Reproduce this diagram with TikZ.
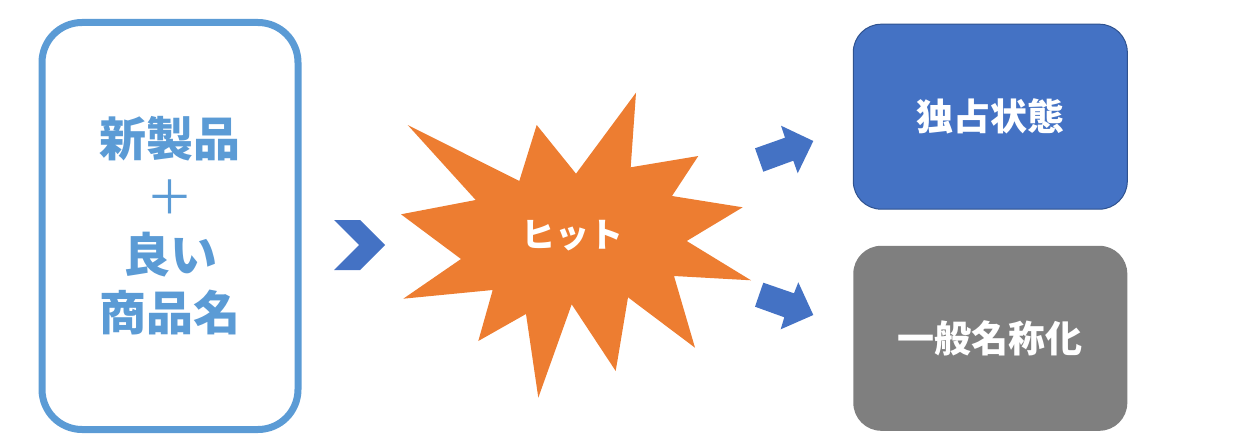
\documentclass[tikz,border=0pt]{standalone}
\usepackage{fontspec}
\setmainfont{Noto Sans CJK JP}
\usetikzlibrary{calc}

\definecolor{ideablue}{HTML}{5B9BD5}
\definecolor{accentblue}{HTML}{4472C4}
\definecolor{edgeblue}{HTML}{2F528F}
\definecolor{hitorange}{HTML}{ED7D31}
\definecolor{genericgray}{HTML}{7F7F7F}

\begin{document}
\begin{tikzpicture}[x=1pt, y=-1pt,
	idea/.style = {draw=ideablue, line width=7pt,
		rounded corners=40pt,
		minimum width=256pt, minimum height=407pt,
		text=ideablue, align=center,
		font=\fontsize{47}{58}\selectfont\bfseries},
	result/.style = {rounded corners=28pt,
		minimum width=274pt, minimum height=185pt,
		text=white,
		font=\fontsize{37}{42}\selectfont\bfseries}]
	
	\useasboundingbox (0,0) rectangle (1235,444);
	
	% Idea box
	\node[idea] (idea) at (170,226) {新製品\\{\mdseries ＋}\\良い\\商品名};
	
	% Chevron
	\fill[accentblue] (334,220) -- (360,220) -- (385,245) -- (360,270)
		-- (334,270) -- (359,245) -- cycle;
	
	% Burst
	\fill[hitorange] (407.7,125) -- (519.3,181) -- (536.7,125) -- (576,173.7)
		-- (636,92.7) -- (630.7,167.3) -- (698.3,156) -- (672,196)
		-- (742.7,207.3) -- (686.7,241) -- (751,280.3) -- (674,276)
		-- (695,347.7) -- (628,297.3) -- (615.7,371) -- (571.7,304.3)
		-- (538.3,397.7) -- (526,314) -- (478.3,341) -- (492.7,290)
		-- (403.3,298.7) -- (461,259) -- (401,214.3) -- (475.7,200) -- cycle;
	\node[text=white, font=\fontsize{34}{38}\selectfont\bfseries] (hit) at (572,236) {ヒット};
	
	% Arrows
	\fill[accentblue] (755,148.3) -- (785,137.7) -- (781,125.7) -- (813.3,141)
		-- (797.7,173.3) -- (793.3,160.7) -- (763.3,171.7) -- cycle;
	\fill[accentblue] (763.3,282.7) -- (794,293.3) -- (798.3,282.3) -- (813.3,315)
		-- (780.7,329.3) -- (784.3,317.3) -- (755,306.7) -- cycle;
	
	% Results
	\node[result, fill=accentblue, draw=edgeblue, line width=1pt] (monopoly) at (990.3,116.7) {独占状態};
	\node[result, fill=genericgray] (generic) at (990.3,338.3) {一般名称化};
	
\end{tikzpicture}
\end{document}
